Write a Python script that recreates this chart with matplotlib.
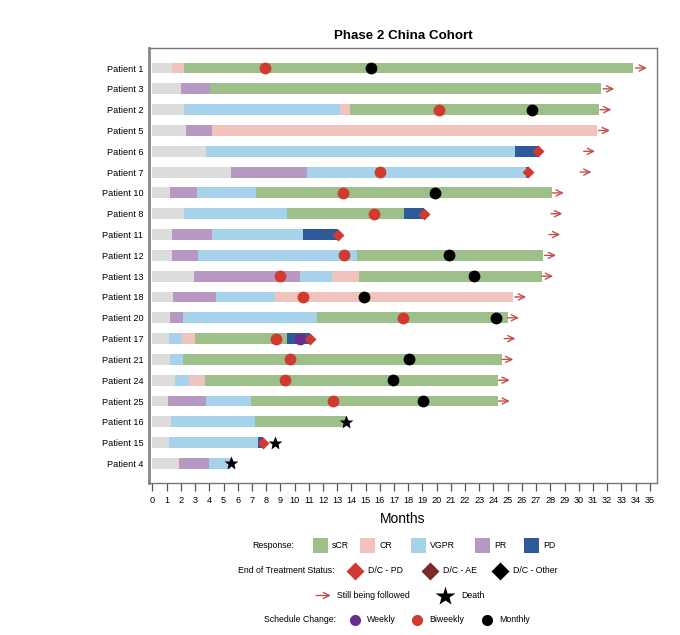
import numpy as np
import matplotlib.pyplot as plt
from matplotlib.patches import Rectangle

plt.rcParams['font.family'] = ['Liberation Sans', 'DejaVu Sans']

# ---- data ----
patients = ['Patient 1', 'Patient 3', 'Patient 2', 'Patient 5', 'Patient 6', 'Patient 7',
            'Patient 10', 'Patient 8', 'Patient 11', 'Patient 12', 'Patient 13', 'Patient 18',
            'Patient 20', 'Patient 17', 'Patient 21', 'Patient 24', 'Patient 25', 'Patient 16',
            'Patient 15', 'Patient 4']

# end month of each response phase, and the phase type
seg_ends = [
    [1.35, 2.25, 33.8],
    [2.0, 4.05, 31.6],
    [2.2, 13.2, 13.9, 31.4],
    [2.35, 4.2, 31.3],
    [3.8, 25.5, 27.1],
    [5.5, 10.9, 26.3, 26.45],
    [1.2, 3.1, 7.3, 28.1],
    [2.2, 9.45, 17.7, 19.1],
    [1.35, 4.2, 10.6, 13.05],
    [1.35, 3.2, 14.4, 27.5],
    [2.9, 10.35, 12.6, 14.55, 27.4],
    [1.45, 4.45, 8.65, 25.4],
    [1.2, 2.15, 11.6, 25.0],
    [1.15, 2.1, 3.0, 9.5, 11.1],
    [1.2, 2.15, 24.6],
    [1.6, 2.6, 3.7, 24.3],
    [1.1, 3.8, 6.95, 24.3],
    [1.3, 7.2, 13.6],
    [1.15, 7.45, 7.75],
    [1.9, 4.0, 5.5],
]
seg_types = [
    ['Pre', 'CR', 'sCR'],
    ['Pre', 'PR', 'sCR'],
    ['Pre', 'VGPR', 'CR', 'sCR'],
    ['Pre', 'PR', 'CR'],
    ['Pre', 'VGPR', 'PD'],
    ['Pre', 'PR', 'VGPR', 'PD'],
    ['Pre', 'PR', 'VGPR', 'sCR'],
    ['Pre', 'VGPR', 'sCR', 'PD'],
    ['Pre', 'PR', 'VGPR', 'PD'],
    ['Pre', 'PR', 'VGPR', 'sCR'],
    ['Pre', 'PR', 'VGPR', 'CR', 'sCR'],
    ['Pre', 'PR', 'VGPR', 'CR'],
    ['Pre', 'PR', 'VGPR', 'sCR'],
    ['Pre', 'VGPR', 'CR', 'sCR', 'PD'],
    ['Pre', 'VGPR', 'sCR'],
    ['Pre', 'VGPR', 'CR', 'sCR'],
    ['Pre', 'PR', 'VGPR', 'sCR'],
    ['Pre', 'VGPR', 'sCR'],
    ['Pre', 'VGPR', 'PD'],
    ['Pre', 'PR', 'VGPR'],
]

# schedule changes (month), None = no change
biweekly = [7.9, None, 20.2, None, None, 16.0, 13.4, 15.6, None, 13.5,
            8.95, 10.6, 17.6, 8.7, 9.7, 9.3, 12.7, None, None, None]
monthly = [15.4, None, 26.7, None, None, None, 19.9, None, None, 20.9,
           22.65, 14.9, 24.2, None, 18.05, 16.9, 19.05, None, None, None]
weekly = [None] * 13 + [10.35] + [None] * 6

dc_pd = [None, None, None, None, 27.1, 26.45, None, 19.1, 13.05, None,
         None, None, None, 11.1, None, None, None, None, 7.75, None]
death = [None] * 17 + [13.6, 8.65, 5.5]
followed = [34.0, 31.7, 31.5, 31.4, 30.35, 30.1, 28.15, 28.05, 27.9, 27.6,
            27.4, 25.5, 25.0, 24.75, 24.6, 24.35, 24.35, None, None, None]

resp_labels = ['sCR', 'CR', 'VGPR', 'PR', 'PD']

colors = {'Pre': '#dcdcdc', 'sCR': '#9dc08b', 'CR': '#f0c3bc', 'VGPR': '#a6d3eb',
          'PR': '#b698c2', 'PD': '#2e5a9c'}
red = '#d33a2f'
darkred = '#7b2a27'
purple = '#6a2c8c'
arrow_col = '#c2514c'
arrow_props = dict(arrowstyle='->,head_width=0.22,head_length=0.45',
                   color=arrow_col, lw=1.0, shrinkA=0, shrinkB=0)

# ---- plot ----
fig = plt.figure(figsize=(6.8, 6.35), dpi=100)
ax = fig.add_axes([0.219, 0.239, 0.747, 0.685])

bh = 0.52
for i in range(len(patients)):
    start = 0
    for end, t in zip(seg_ends[i], seg_types[i]):
        ax.barh(i, end - start, left=start, height=bh, color=colors[t], linewidth=0)
        start = end
    if biweekly[i] is not None:
        ax.plot(biweekly[i], i, 'o', color=red, ms=8.5, mec='none', zorder=4)
    if monthly[i] is not None:
        ax.plot(monthly[i], i, 'o', color='black', ms=8.5, mec='none', zorder=4)
    if weekly[i] is not None:
        ax.plot(weekly[i], i, 'o', color=purple, ms=8.5, mec='none', zorder=4)
    if dc_pd[i] is not None:
        ax.plot(dc_pd[i], i, 'D', color=red, ms=6, mec='none', zorder=4)
    if death[i] is not None:
        ax.plot(death[i], i, '*', color='black', ms=10, mec='none', zorder=4)
    if followed[i] is not None:
        ax.annotate('', xy=(followed[i] + 0.8, i), xytext=(followed[i], i),
                    arrowprops=arrow_props)

ax.set_xlim(-0.25, 35.5)
ax.set_ylim(len(patients) - 0.05, -0.95)
ax.set_yticks(range(len(patients)))
ax.set_yticklabels(patients, fontsize=6.6)
ax.set_xticks(range(0, 36))
ax.tick_params(axis='x', direction='out', length=6, width=0.9, color='#555555',
               labelsize=6.6, pad=3)
ax.tick_params(axis='y', length=0, pad=4)
for s in ['top', 'right', 'bottom']:
    ax.spines[s].set_color('#777777')
    ax.spines[s].set_linewidth(1.0)
ax.spines['left'].set_color('#888888')
ax.spines['left'].set_linewidth(2.0)
ax.set_xlabel('Months', fontsize=10, labelpad=5)
ax.set_title('Phase 2 China Cohort', fontsize=9.6, fontweight='bold', pad=7)

# ---- legend (pixel coords) ----
lg = fig.add_axes([0, 0, 1, 1])
lg.set_xlim(0, 680)
lg.set_ylim(635, 0)
lg.axis('off')
fs = 6.3

y1 = 545.5
lg.text(294, y1, 'Response:', ha='right', va='center', fontsize=fs)
resp_x = [320, 367, 418, 482, 531]
for x, lab in zip(resp_x, resp_labels):
    lg.add_patch(Rectangle((x - 7.5, y1 - 7.5), 15, 15, color=colors[lab], lw=0))
    lg.text(x + 12, y1, lab, ha='left', va='center', fontsize=fs)

y2 = 570.5
lg.text(334, y2, 'End of Treatment Status:', ha='right', va='center', fontsize=fs)
for x, c, lab in zip([355, 430, 500], [red, darkred, 'black'],
                     ['D/C - PD', 'D/C - AE', 'D/C - Other']):
    lg.plot(x, y2, 'D', color=c, ms=9, mec='none')
    lg.text(x + 13, y2, lab, ha='left', va='center', fontsize=fs)

y3 = 595.5
lg.annotate('', xy=(331, y3), xytext=(316, y3), arrowprops=arrow_props)
lg.text(337, y3, 'Still being followed', ha='left', va='center', fontsize=fs)
lg.plot(445, y3, '*', color='black', ms=15, mec='none')
lg.text(461, y3, 'Death', ha='left', va='center', fontsize=fs)

y4 = 620
lg.text(336, y4, 'Schedule Change:', ha='right', va='center', fontsize=fs)
for x, c, lab in zip([355, 417, 487], [purple, red, 'black'],
                     ['Weekly', 'Biweekly', 'Monthly']):
    lg.plot(x, y4, 'o', color=c, ms=8, mec='none')
    lg.text(x + 12, y4, lab, ha='left', va='center', fontsize=fs)

fig.savefig('out.png', dpi=100, facecolor='white')
